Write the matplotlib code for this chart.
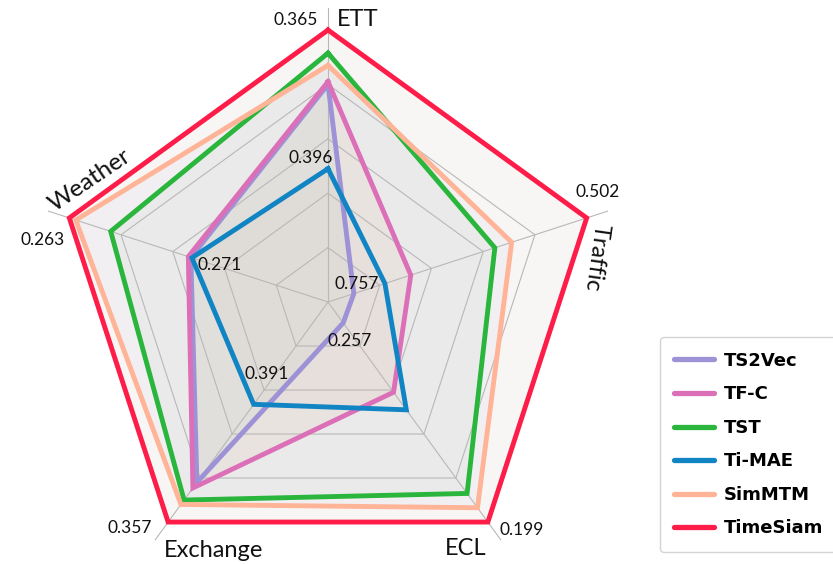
import numpy as np
import matplotlib.pyplot as plt
from matplotlib.lines import Line2D

# Datasets placed clockwise from the top
datasets = ["ETT", "Traffic", "ECL", "Exchange", "Weather"]
best_mse = [0.365, 0.502, 0.199, 0.357, 0.263]
worst_mse = [0.396, 0.757, 0.257, 0.391, 0.271]

methods = ["TS2Vec", "TF-C", "TST", "Ti-MAE", "SimMTM", "TimeSiam"]
# Normalized score per dataset (1.0 = best MSE, outer ring)
ts2vec = [0.80, 0.10, 0.095, 0.82, 0.53]
tf_c = [0.81, 0.32, 0.41, 0.845, 0.54]
tst = [0.915, 0.645, 0.87, 0.90, 0.84]
ti_mae = [0.49, 0.22, 0.49, 0.465, 0.526]
simmtm = [0.87, 0.71, 0.935, 0.92, 0.975]
timesiam = [1.0, 1.0, 1.0, 1.0, 1.0]
scores = [ts2vec, tf_c, tst, ti_mae, simmtm, timesiam]

line_colors = ["#9d92d6", "#dc70b8", "#2ab53c", "#1185c4", "#ffb397", "#fd1d48"]
fill_colors = ["#82c8b4", "#dca082", "#b0c8a8", "#e1beaf", "#c8b4d8", "#f7f6f5"]
fill_alpha = [0.10, 0.10, 0.10, 0.10, 0.10, 0.0]

R_PX = 272.0
W, H = 833, 564
CX, CY = 328, 302

fig = plt.figure(figsize=(W / 100, H / 100), dpi=100)
ax = fig.add_axes([0, 0, 1, 1])
ax.set_xlim(-CX / R_PX, (W - CX) / R_PX)
ax.set_ylim(-(H - CY) / R_PX, CY / R_PX)
ax.set_aspect("equal")
ax.axis("off")

n = len(datasets)
angles = np.deg2rad(90 - 72 * np.arange(n))
ux, uy = np.cos(angles), np.sin(angles)


def ring(vals):
    v = np.asarray(vals, dtype=float)
    x = v * ux
    y = v * uy
    return np.append(x, x[0]), np.append(y, y[0])


# Background of the web
bx, by = ring(np.ones(n))
ax.fill(bx, by, color="#f7f6f5", zorder=0, lw=0)

# Series fills
for vals, fc, a in zip(scores, fill_colors, fill_alpha):
    if a > 0:
        x, y = ring(vals)
        ax.fill(x, y, color=fc, alpha=a, lw=0, zorder=1)

# Grid rings and spokes
for lvl in [0.2, 0.4, 0.6, 0.8, 1.0]:
    x, y = ring(np.full(n, lvl))
    ax.plot(x, y, color="#b8b8b8", lw=0.8, zorder=2)
for i in range(n):
    ax.plot([0, 1.08 * ux[i]], [0, 1.08 * uy[i]], color="#b8b8b8", lw=0.8, zorder=2)

# Series outlines
handles = []
for name, vals, lc in zip(methods, scores, line_colors):
    x, y = ring(vals)
    ax.plot(x, y, color=lc, lw=3.5, zorder=3, solid_joinstyle="miter")
    handles.append(Line2D([], [], color=lc, lw=3.8, solid_capstyle="round", label=name))

tfont = dict(family="Lato", color="#111111")

# Dataset names
ax.text(0.033, 1.037, datasets[0], ha="left", va="center", fontsize=17, **tfont)
ax.text(0.985, 0.165, datasets[1], ha="center", va="center", fontsize=17, rotation=-98, **tfont)
ax.text(0.507, -0.908, datasets[2], ha="center", va="center", fontsize=17, **tfont)
ax.text(-0.419, -0.915, datasets[3], ha="center", va="center", fontsize=17, **tfont)
ax.text(-0.875, 0.449, datasets[4], ha="center", va="center", fontsize=17.5, rotation=34, **tfont)

# Best MSE at the outer vertices
ax.text(-0.037, 1.037, f"{best_mse[0]:.3f}", ha="right", va="center", fontsize=12.5, **tfont)
ax.text(0.993, 0.404, f"{best_mse[1]:.3f}", ha="center", va="center", fontsize=12.5, **tfont)
ax.text(0.632, -0.838, f"{best_mse[2]:.3f}", ha="left", va="center", fontsize=12.5, **tfont)
ax.text(-0.728, -0.831, f"{best_mse[3]:.3f}", ha="center", va="center", fontsize=12.5, **tfont)
ax.text(-1.051, 0.228, f"{best_mse[4]:.3f}", ha="center", va="center", fontsize=12.5, **tfont)

# Worst MSE near the center
inner_pos = [(-0.0625, 0.529), (0.107, 0.066), (0.081, -0.143), (-0.224, -0.265), (-0.397, 0.136)]
for (px, py), v in zip(inner_pos, worst_mse):
    ax.text(px, py, f"{v:.3f}", ha="center", va="center", fontsize=12.5, zorder=5, **tfont)

leg = ax.legend(handles=handles, loc="upper left",
                bbox_to_anchor=(660 / W, 1 - 343 / H, 190 / W, 0.01),
                bbox_transform=fig.transFigure, mode="expand", frameon=True, fancybox=True,
                prop=dict(family="DejaVu Sans", weight="bold", size=13),
                handlelength=2.2, handletextpad=0.55, labelspacing=0.86,
                borderpad=0.8, borderaxespad=0)
leg.get_frame().set_edgecolor("#c8c8c8")
leg.get_frame().set_linewidth(1.0)

fig.savefig("out.png", dpi=100)
